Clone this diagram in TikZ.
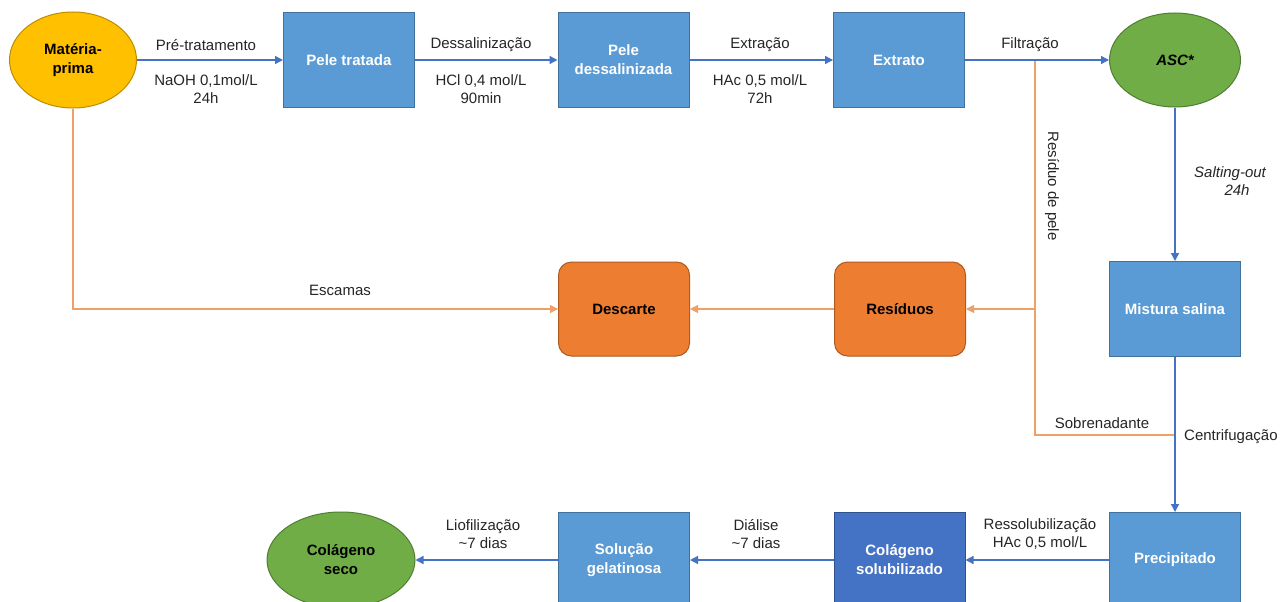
\documentclass[tikz,border=0pt]{standalone}
\usepackage{fontspec}
\setmainfont{Liberation Sans}
\usetikzlibrary{shapes.geometric,arrows.meta}
\definecolor{bfill}{HTML}{5B9BD5}
\definecolor{bdraw}{HTML}{41719C}
\definecolor{dbfill}{HTML}{4472C4}
\definecolor{dbdraw}{HTML}{2F528F}
\definecolor{ofill}{HTML}{ED7D31}
\definecolor{odraw}{HTML}{AE5A21}
\definecolor{yfill}{HTML}{FFC000}
\definecolor{ydraw}{HTML}{BC8C00}
\definecolor{gfill}{HTML}{70AD47}
\definecolor{gdraw}{HTML}{507E32}
\definecolor{bline}{HTML}{4472C4}
\definecolor{oline}{HTML}{EF9F68}
\definecolor{txt}{HTML}{262626}
\tikzset{
  bluebox/.style={rectangle, draw=bdraw, fill=bfill, line width=1pt, minimum width=131pt, minimum height=95pt, text=white, font=\fontsize{15}{19}\selectfont\bfseries, align=center, inner sep=0pt},
  darkbox/.style={bluebox, draw=dbdraw, fill=dbfill},
  orangebox/.style={rectangle, rounded corners=13pt, draw=odraw, fill=ofill, line width=1pt, minimum width=131pt, minimum height=94pt, text=black, font=\fontsize{15}{19}\selectfont\bfseries, align=center, inner sep=0pt},
  yellowell/.style={ellipse, draw=ydraw, fill=yfill, line width=1pt, minimum width=127pt, minimum height=96pt, inner sep=0pt, text=black, font=\fontsize{15}{19}\selectfont\bfseries, align=center},
  greenell/.style={ellipse, draw=gdraw, fill=gfill, line width=1pt, minimum width=131pt, minimum height=94pt, inner sep=0pt, text=black, font=\fontsize{15}{19}\selectfont\bfseries, align=center},
  bluearrow/.style={draw=bline, line width=1.3pt, -{Triangle[length=8pt,width=8pt]}},
  orangearrow/.style={draw=oline, line width=1.1pt, -{Triangle[length=8pt,width=8pt]}},
  orangelink/.style={draw=oline, line width=1.1pt},
  lbl/.style={text=txt, font=\fontsize{15}{18}\selectfont, align=center, inner sep=0pt}
}
\begin{document}
\begin{tikzpicture}[x=1pt,y=-1pt]
\clip (0,0) rectangle (1282,602);
\fill[white] (0,0) rectangle (1282,602);

% top row
\node[yellowell] (mp) at (73,60) {Matéria-\\prima};
\node[bluebox] (pt) at (349,60) {Pele tratada};
\node[bluebox] (pd) at (623.5,60) {Pele\\dessalinizada};
\node[bluebox] (ex) at (899,60) {Extrato};
\node[greenell] (asc) at (1175,60) {\itshape ASC*};

% middle row
\node[orangebox] (desc) at (624,309) {Descarte};
\node[orangebox] (res) at (900,309) {Resíduos};
\node[bluebox] (mist) at (1175,309) {Mistura salina};

% bottom row
\node[bluebox] (prec) at (1175,560) {Precipitado};
\node[darkbox] (cs) at (899.5,560) {Colágeno\\solubilizado};
\node[bluebox] (sg) at (624,560) {Solução\\gelatinosa};
\node[greenell, minimum width=148pt, minimum height=96pt] (seco) at (341,560) {Colágeno\\seco};

% coordinates
\coordinate (jf) at (1035,60);
\coordinate (jr) at (1035,309);
\coordinate (js) at (1035,435);
\coordinate (jc) at (1175,435);
\coordinate (je) at (73,309);

% orange connectors
\draw[orangelink] (jf) -- (js) -- (jc);
\draw[orangearrow] (jr) -- (res.east);
\draw[orangearrow] (res.west) -- (desc.east);
\draw[orangearrow] (mp.south) -- (je) -- (desc.west);

% blue connectors
\draw[bluearrow] (mp.east) -- (pt.west);
\draw[bluearrow] (pt.east) -- (pd.west);
\draw[bluearrow] (pd.east) -- (ex.west);
\draw[bluearrow] (ex.east) -- (asc.west);
\draw[bluearrow] (asc.south) -- (mist.north);
\draw[bluearrow] (mist.south) -- (prec.north);
\draw[bluearrow] (prec.west) -- (cs.east);
\draw[bluearrow] (cs.west) -- (sg.east);
\draw[bluearrow] (sg.west) -- (seco.east);

% labels
\node[lbl] (l1a) at (206,45) {Pré-tratamento};
\node[lbl] (l1b) at (206,89) {NaOH 0,1mol/L\\24h};
\node[lbl] (l2a) at (481,45) {Dessalinização};
\node[lbl] (l2b) at (481,89) {HCl 0,4 mol/L\\90min};
\node[lbl] (l3a) at (760,45) {Extração};
\node[lbl] (l3b) at (760,89) {HAc 0,5 mol/L\\72h};
\node[lbl] (l4a) at (1030,45) {Filtração};
\node[lbl, rotate=-90] (l5) at (1052,186) {Resíduo de pele};
\node[lbl, font=\fontsize{15}{18}\selectfont\itshape] (l6) at (1230,181) {Salting-out\\\hspace*{14pt}24h};
\node[lbl] (l7) at (340,290) {Escamas};
\node[lbl] (l8) at (1102,423) {Sobrenadante};
\node[lbl, anchor=west] (l9) at (1184,437) {Centrifugação};
\node[lbl] (l10) at (1040,534) {Ressolubilização\\HAc 0,5 mol/L};
\node[lbl] (l11) at (756,534) {Diálise\\\textasciitilde7 dias};
\node[lbl] (l12) at (483,534) {Liofilização\\\textasciitilde7 dias};
\end{tikzpicture}
\end{document}
